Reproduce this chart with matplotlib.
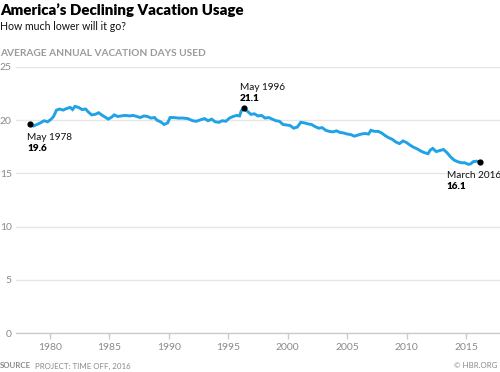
import matplotlib
matplotlib.use("Agg")
import matplotlib.pyplot as plt

plt.rcParams['font.family'] = ['Lato', 'DejaVu Sans']

years = [1978.33, 1978.6, 1978.9, 1979.2, 1979.5, 1979.8, 1980.1, 1980.3, 1980.55, 1980.8,
         1981.1, 1981.4, 1981.7, 1981.9, 1982.1, 1982.4, 1982.7, 1983.0, 1983.2, 1983.5,
         1983.8, 1984.1, 1984.4, 1984.7, 1984.9, 1985.2, 1985.4, 1985.7, 1986.0, 1986.3,
         1986.7, 1987.0, 1987.3, 1987.6, 1987.9, 1988.2, 1988.5, 1988.8, 1989.0, 1989.3,
         1989.6, 1989.9, 1990.1, 1990.4, 1990.8, 1991.2, 1991.6, 1992.0, 1992.3, 1992.7,
         1993.0, 1993.3, 1993.6, 1993.9, 1994.2, 1994.5, 1994.8, 1995.1, 1995.4, 1995.7,
         1995.95, 1996.1, 1996.33, 1996.6, 1996.9, 1997.2, 1997.5, 1997.8, 1998.1, 1998.4,
         1998.7, 1999.0, 1999.3, 1999.6, 1999.9, 2000.2, 2000.5, 2000.8, 2001.1, 2001.4,
         2001.7, 2002.0, 2002.3, 2002.6, 2002.9, 2003.2, 2003.5, 2003.8, 2004.1, 2004.4,
         2004.7, 2005.0, 2005.3, 2005.6, 2005.9, 2006.2, 2006.5, 2006.8, 2007.0, 2007.3,
         2007.6, 2007.9, 2008.2, 2008.5, 2008.8, 2009.1, 2009.4, 2009.7, 2010.0, 2010.3,
         2010.6, 2010.9, 2011.2, 2011.5, 2011.8, 2012.0, 2012.2, 2012.5, 2012.8, 2013.1,
         2013.4, 2013.7, 2014.0, 2014.3, 2014.6, 2014.9, 2015.2, 2015.4, 2015.6, 2015.9,
         2016.17]
days = [19.6, 19.45, 19.6, 19.75, 19.95, 19.85, 20.1, 20.35, 20.95, 21.05,
        20.95, 21.1, 21.2, 21.0, 21.3, 21.2, 21.0, 21.05, 20.8, 20.5,
        20.55, 20.7, 20.45, 20.25, 20.1, 20.3, 20.5, 20.35, 20.4, 20.45,
        20.4, 20.45, 20.35, 20.25, 20.4, 20.35, 20.2, 20.25, 20.0, 19.85,
        19.6, 19.75, 20.25, 20.25, 20.2, 20.2, 20.15, 19.95, 19.9, 20.05,
        20.15, 19.95, 20.1, 19.85, 19.8, 19.95, 19.9, 20.2, 20.35, 20.45,
        20.4, 20.9, 21.1, 20.85, 20.55, 20.6, 20.4, 20.45, 20.2, 20.25,
        20.1, 19.95, 19.9, 19.6, 19.55, 19.5, 19.25, 19.35, 19.8, 19.75,
        19.65, 19.6, 19.4, 19.25, 19.3, 19.05, 18.95, 18.9, 19.0, 18.85,
        18.8, 18.7, 18.65, 18.5, 18.6, 18.7, 18.75, 18.7, 19.05, 18.95,
        18.95, 18.8, 18.55, 18.35, 18.2, 17.95, 17.8, 18.05, 17.9, 17.65,
        17.45, 17.3, 17.1, 16.95, 16.85, 17.2, 17.35, 17.05, 17.15, 17.25,
        16.95, 16.55, 16.25, 16.1, 16.0, 16.0, 15.85, 15.9, 16.1, 16.15,
        16.1]

marked_years = [1978.33, 1996.33, 2016.17]
marked_values = [19.6, 21.1, 16.1]
marked_labels = ["May 1978", "May 1996", "March 2016"]
marked_value_labels = ["19.6", "21.1", "16.1"]
label_offsets = [(-3, -13), (-4, 21), (-33, -14)]

x_ticks = [1980, 1985, 1990, 1995, 2000, 2005, 2010, 2015]
y_ticks = [0, 5, 10, 15, 20, 25]

fig = plt.figure(figsize=(5.0, 3.72), dpi=100)
ax = fig.add_axes([0.032, 0.1048, 0.968, 0.7151])

ax.plot(years, days, color='#1fa2e6', lw=2.1, solid_joinstyle='miter', zorder=3)
ax.scatter(marked_years, marked_values, s=12, color='black', zorder=4)

for xv, yv, lab, vlab, off in zip(marked_years, marked_values, marked_labels,
                                   marked_value_labels, label_offsets):
    ax.annotate(lab, xy=(xv, yv), xytext=off, textcoords='offset pixels',
                ha='left', va='center', fontsize=7.2, color='#111111',
                annotation_clip=False)
    ax.annotate(vlab, xy=(xv, yv), xytext=(off[0], off[1] - 11), textcoords='offset pixels',
                ha='left', va='center', fontsize=7.2, fontweight='heavy', color='black',
                annotation_clip=False)

ax.set_xlim(1977.14, 2017.86)
ax.set_ylim(0, 25)
ax.set_xticks(x_ticks)
ax.set_yticks(y_ticks)
ax.set_xticklabels([str(t) for t in x_ticks])
ax.set_yticklabels([str(t) for t in y_ticks])
ax.grid(axis='y', color='#e6e6e6', lw=1.0)
ax.set_axisbelow(True)
for s in ['top', 'right', 'left']:
    ax.spines[s].set_visible(False)
ax.spines['bottom'].set_color('#cccccc')
ax.spines['bottom'].set_linewidth(1.0)
ax.tick_params(axis='x', length=4, width=1, color='#cccccc', labelcolor='#8a8a8a',
               labelsize=7.5, pad=3)
ax.tick_params(axis='y', length=0, labelcolor='#8a8a8a', labelsize=7.5, pad=3)

fig.text(0.0, 1 - 10 / 372, "America\u2019s Declining Vacation Usage", ha='left', va='center',
         fontsize=10.8, fontweight='heavy', color='black')
fig.text(0.0, 1 - 26 / 372, "How much lower will it go?", ha='left', va='center',
         fontsize=7.6, color='#111111')
fig.text(0.0, 1 - 53 / 372, "AVERAGE ANNUAL VACATION DAYS USED", ha='left', va='center',
         fontsize=7.3, fontweight='bold', color='#9a9a9a')
fig.text(0.0, 1 - 366 / 372, "SOURCE", ha='left', va='center',
         fontsize=5.7, fontweight='bold', color='#8a8a8a')
fig.text(0.07, 1 - 366 / 372, "PROJECT: TIME OFF, 2016", ha='left', va='center',
         fontsize=5.7, color='#8a8a8a')
fig.text(0.994, 1 - 366 / 372, "\u00a9 HBR.ORG", ha='right', va='center',
         fontsize=5.7, color='#8a8a8a')

fig.savefig("out.png", dpi=100)
